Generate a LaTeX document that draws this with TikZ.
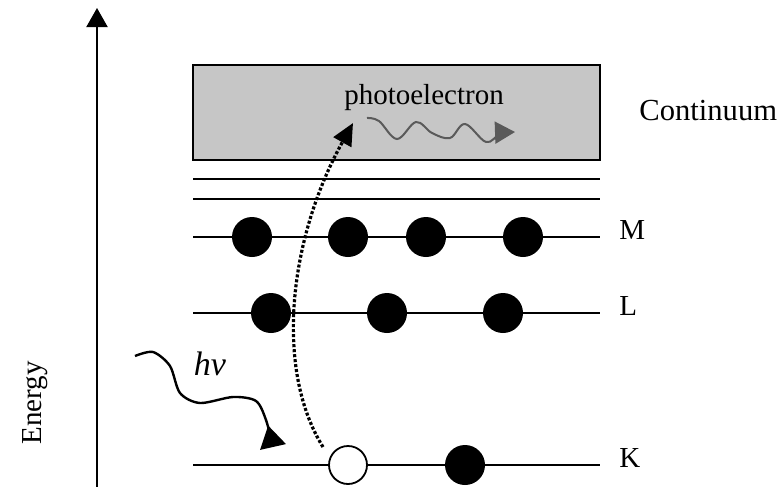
\documentclass[tikz,border=0pt]{standalone}
\usepackage{fontspec}
\setmainfont{Liberation Serif}
\usepackage{tikz}
\usetikzlibrary{arrows.meta}
\definecolor{stipple}{HTML}{C6C6C6}
\definecolor{wavec}{HTML}{5A5A5A}
\tikzset{
  electron/.style={circle, fill=black, inner sep=0pt, minimum size=20pt},
  hole/.style={circle, draw, fill=white, line width=0.9pt, inner sep=0pt, minimum size=19pt},
  shell/.style={line width=0.9pt},
  lbl/.style={font=\fontsize{14.5}{17}\selectfont, inner sep=0pt}
}

\begin{document}
\begin{tikzpicture}[x=0.5pt, y=-0.5pt]
  \useasboundingbox (0,0) rectangle (782,487);
  \draw[line width=1pt, -{Triangle[length=9.5pt, width=10.5pt]}] (97,487) -- (97,8);
  \node[lbl, rotate=90, anchor=base] (energy) at (41,403) {Energy};
  \draw[line width=1pt, fill=stipple] (193,65) rectangle (600,160);
  \node[lbl, anchor=base] (photo) at (424,104) {photoelectron};
  \node[lbl, anchor=base west, font=\fontsize{15.3}{18}\selectfont] (cont) at (639,120) {Continuum};
  \draw[shell] (193,179) -- (600,179);
  \draw[shell] (193,199) -- (600,199);
  \draw[shell] (193,237) -- (600,237);
  \draw[shell] (193,313) -- (600,313);
  \draw[shell] (193,465) -- (600,465);
  \node[lbl, anchor=base west] (lm) at (619,239) {M};
  \node[lbl, anchor=base west] (ll) at (619,315) {L};
  \node[lbl, anchor=base west] (lk) at (619,467) {K};
  \node[electron] (m1) at (252,237) {};
  \node[electron] (m2) at (348,237) {};
  \node[electron] (m3) at (426,237) {};
  \node[electron] (m4) at (523,237) {};
  \node[electron] (l1) at (271,313) {};
  \node[electron] (l2) at (387,313) {};
  \node[electron] (l3) at (503,313) {};
  \node[hole] (k1) at (348,465) {};
  \node[electron] (k2) at (465,465) {};
  \coordinate (eject) at (323,447);
  \coordinate (escape) at (353,123);
  \draw[line width=1.6pt, dash pattern=on 1.5pt off 1pt, -{Triangle[length=11pt, width=10pt]}]
    (eject) .. controls (275,370) and (288,240) .. (escape);
  \draw[wavec, line width=1pt, -{Triangle[length=10pt, width=11pt]}]
    plot[smooth, tension=0.6] coordinates {(367,118) (379,121) (397,139) (416,122) (432,133) (450,138) (465,124) (486,142) (500,134) (515,132)};
  \draw[line width=1.2pt, -{Triangle[reversed, length=11pt, width=13pt]}]
    plot[smooth] coordinates {(135,356) (153,352) (170,366) (180,393) (200,403) (233,397) (256,401) (266,420) (273,447)};
  \node[lbl, anchor=base, font=\fontsize{17}{20}\selectfont\itshape] (hv) at (210,375) {hv};
\end{tikzpicture}
\end{document}
